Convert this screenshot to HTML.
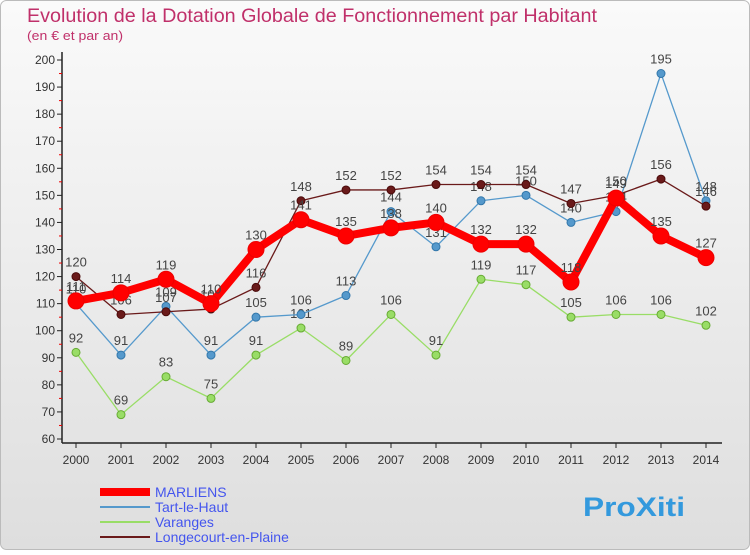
<!DOCTYPE html>
<html><head><meta charset="utf-8"><style>
body{margin:0;width:750px;height:550px;overflow:hidden;font-family:"Liberation Sans",sans-serif}
</style></head><body>
<svg id="c" width="750" height="550" xmlns="http://www.w3.org/2000/svg">
<defs><linearGradient id="bg" x1="0" y1="0" x2="0" y2="1"><stop offset="0" stop-color="#fafafa"/><stop offset="1" stop-color="#dedede"/></linearGradient></defs>
<rect x="0.5" y="0.5" width="749" height="549" rx="6" fill="url(#bg)" stroke="#bbb"/>
<text x="27" y="22" font-size="19" textLength="570" lengthAdjust="spacingAndGlyphs" fill="#c0306a">Evolution de la Dotation Globale de Fonctionnement par Habitant</text>
<text x="27" y="40" font-size="13" textLength="96" lengthAdjust="spacingAndGlyphs" fill="#c0306a">(en € et par an)</text>
<g id="axes"></g><g id="series"></g><g id="legend"></g>
</svg>
<script>
const years=[2000,2001,2002,2003,2004,2005,2006,2007,2008,2009,2010,2011,2012,2013,2014];
const marliens=[111,114,119,110,130,141,135,138,140,132,132,118,149,135,127];
const tart=[110,91,109,91,105,106,113,144,131,148,150,140,144,195,148];
const varanges=[92,69,83,75,91,101,89,106,91,119,117,105,106,106,102];
const longe=[120,106,107,108,116,148,152,152,154,154,154,147,150,156,146];
const yTicks=[60,70,80,90,100,110,120,130,140,150,160,170,180,190,200];
const NS="http://www.w3.org/2000/svg";
const X=i=>76+i*45, Y=v=>439-(v-60)*(379/140);
function mk(t,a,p){const e=document.createElementNS(NS,t);for(const k in a)e.setAttribute(k,a[k]);p.appendChild(e);return e;}
const ax=document.getElementById('axes');
let l=mk('line',{x1:62,y1:52,x2:62,y2:443,stroke:'#222','stroke-width':1.5},ax);


l=mk('line',{x1:62,y1:443,x2:722,y2:443,stroke:'#222','stroke-width':1.5},ax);


yTicks.forEach(v=>{
 mk('line',{x1:57,y1:Y(v),x2:62,y2:Y(v),stroke:'#222'},ax);
 if(v<200) mk('line',{x1:59,y1:Y(v+5),x2:62,y2:Y(v+5),stroke:'#e00'},ax);
 const t=mk('text',{x:55,y:Y(v)+4,'font-size':12,'text-anchor':'end',fill:'#333'},ax);t.textContent=v;
 
 
});
years.forEach((y,i)=>{
 mk('line',{x1:X(i),y1:443,x2:X(i),y2:448,stroke:'#222'},ax);
 const t=mk('text',{x:X(i),y:464,'font-size':12,'text-anchor':'middle',fill:'#333'},ax);t.textContent=y;
 
 
});
const S=document.getElementById('series');
function draw(d,col,w,r,name,dark){
 const g=mk('g',{},S);
 
 
 mk('polyline',{points:d.map((v,i)=>X(i)+','+Y(v)).join(' '),fill:'none',stroke:col,'stroke-width':w,'stroke-linejoin':'round'},g);
 d.forEach((v,i)=>{
  const c=mk('circle',{cx:X(i),cy:Y(v),r:r,fill:col,stroke:dark,'stroke-width':1},g);
  
  
  const t=mk('text',{x:X(i),y:Y(v)-10,'font-size':13,'text-anchor':'middle',fill:'#444'},g);t.textContent=v;
  
  
 });
}
draw(varanges,'#99dd66',1.3,4,'varanges-series','#66aa33');
draw(tart,'#5599cc',1.3,4,'tart-le-haut-series','#3377aa');
draw(longe,'#6a1a1a',1.3,4,'longecourt-series','#4a0a0a');
draw(marliens,'#ff0000',8,8,'marliens-series','#ee0000');
const L=document.getElementById('legend');
const items=[['MARLIENS','#ff0000',8,'#4455ee'],['Tart-le-Haut','#5599cc',2,'#4455ee'],['Varanges','#99dd66',2,'#4455ee'],['Longecourt-en-Plaine','#6a1a1a',2,'#4455ee']];
items.forEach((it,i)=>{
 const y=492+i*15;
 const g=mk('g',{},L);
 
 
 mk('line',{x1:100,y1:y,x2:150,y2:y,stroke:it[1],'stroke-width':it[2]},g);
 const t=mk('text',{x:155,y:y+5,'font-size':14,fill:it[3]},g);t.textContent=it[0];
});
const p=mk('text',{x:583,y:516,'font-size':27,'font-weight':'bold',fill:'#3399dd',textLength:102,lengthAdjust:'spacingAndGlyphs'},L);
p.textContent='ProXiti';


</script>
</body></html>
